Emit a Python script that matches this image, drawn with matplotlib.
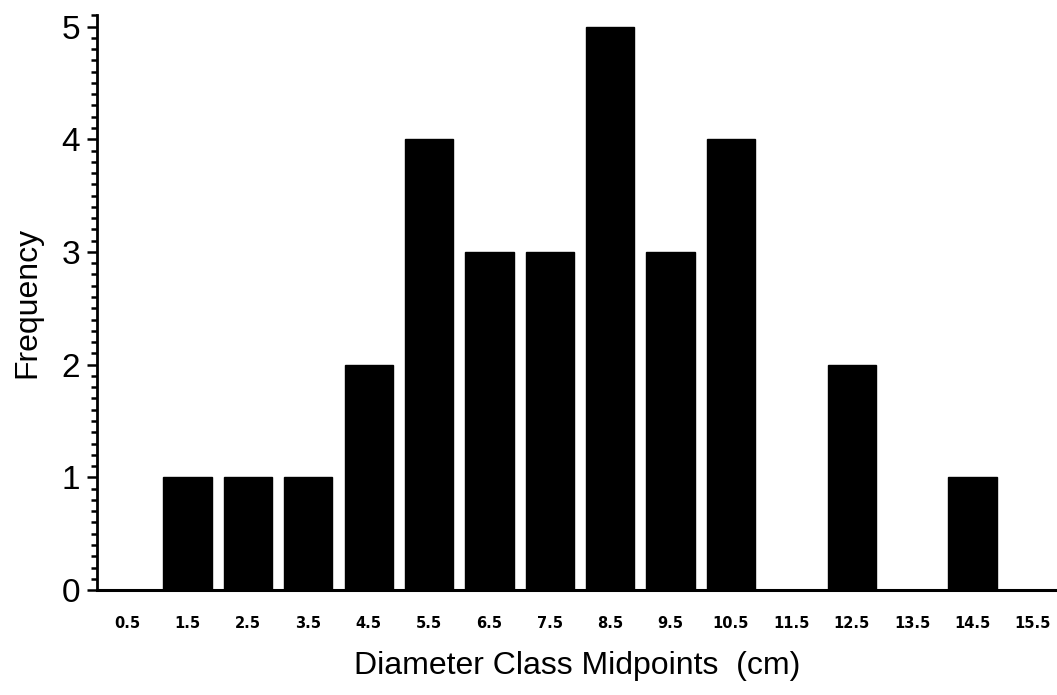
import numpy as np
import matplotlib
matplotlib.use("Agg")
import matplotlib.pyplot as plt
from matplotlib.ticker import MultipleLocator

midpoints = ["0.5", "1.5", "2.5", "3.5", "4.5", "5.5", "6.5", "7.5",
             "8.5", "9.5", "10.5", "11.5", "12.5", "13.5", "14.5", "15.5"]
frequency = [0, 1, 1, 1, 2, 4, 3, 3, 5, 3, 4, 0, 2, 0, 1, 0]

plt.rcParams['font.family'] = ['Liberation Sans', 'DejaVu Sans']

fig = plt.figure(figsize=(10.57, 6.95), dpi=100)
ax = fig.add_axes([0.0918, 0.151, 0.9082, 0.827])

x = np.arange(len(midpoints))
ax.bar(x, frequency, width=0.8, color='black', edgecolor='black')

ax.set_xlim(-0.5, 15.4)
ax.set_ylim(0, 5.1)

ax.spines['top'].set_visible(False)
ax.spines['right'].set_visible(False)
ax.spines['left'].set_linewidth(2.0)
ax.spines['bottom'].set_linewidth(2.2)

ax.set_xticks(x)
ax.set_xticklabels(midpoints, fontsize=10.5, fontweight='bold', family='DejaVu Sans')
ax.tick_params(axis='x', length=0, pad=19)

ax.yaxis.set_major_locator(MultipleLocator(1))
ax.yaxis.set_minor_locator(MultipleLocator(0.1))
ax.tick_params(axis='y', which='major', length=7, width=1.8, labelsize=24, pad=5)
ax.tick_params(axis='y', which='minor', length=4.5, width=1.8)

ax.set_ylabel('Frequency', fontsize=23, labelpad=14)
ax.set_xlabel('Diameter Class Midpoints  (cm)', fontsize=23, labelpad=14)

fig.savefig('out.png', dpi=100)
